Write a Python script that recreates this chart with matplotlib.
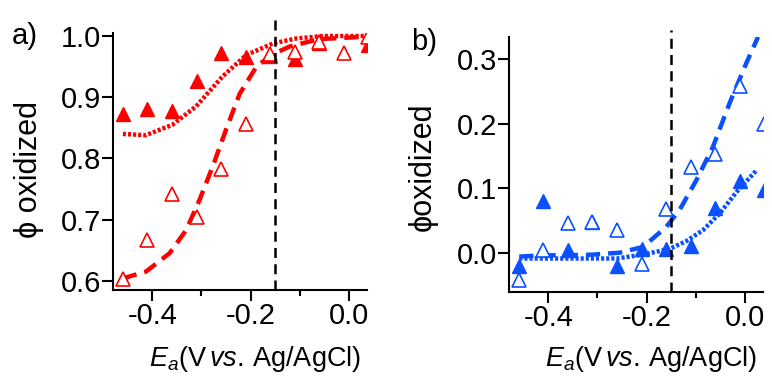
import numpy as np
import matplotlib
matplotlib.use("Agg")
import matplotlib.pyplot as plt
from matplotlib.ticker import MultipleLocator

plt.rcParams['font.family'] = ['Liberation Sans', 'DejaVu Sans']
plt.rcParams['mathtext.fontset'] = 'custom'
plt.rcParams['mathtext.rm'] = 'Liberation Sans'
plt.rcParams['mathtext.it'] = 'Liberation Sans:italic'
plt.rcParams['axes.unicode_minus'] = False

RED = '#ff0000'
BLUE = '#0a50ff'

# panel a (red)
a_x_fill = [-0.46, -0.41, -0.36, -0.31, -0.26, -0.21, -0.16, -0.11, -0.06, 0.04]
a_y_fill = [0.872, 0.881, 0.878, 0.927, 0.973, 0.965, 0.967, 0.962, 0.988, 0.985]
a_x_open = [-0.46, -0.41, -0.36, -0.31, -0.26, -0.21, -0.16, -0.11, -0.06, -0.01, 0.04]
a_y_open = [0.603, 0.666, 0.742, 0.705, 0.782, 0.856, 0.970, 0.974, 0.990, 0.973, 0.999]
a_fit_dot_x = [-0.46, -0.413, -0.359, -0.311, -0.257, -0.209, -0.154, -0.107, -0.053, 0.036]
a_fit_dot_y = [0.840, 0.838, 0.855, 0.885, 0.934, 0.969, 0.988, 0.996, 1.0, 1.0]
a_fit_dash_x = [-0.46, -0.413, -0.365, -0.331, -0.304, -0.277, -0.250, -0.222,
                -0.188, -0.158, -0.120, -0.06, 0.036]
a_fit_dash_y = [0.604, 0.615, 0.645, 0.683, 0.732, 0.787, 0.847, 0.906,
                0.950, 0.969, 0.983, 0.995, 0.999]

# panel b (blue)
b_x_fill = [-0.46, -0.41, -0.36, -0.31, -0.26, -0.21, -0.16, -0.11, -0.06, -0.01, 0.04]
b_y_fill = [-0.021, 0.080, 0.004, 0.048, -0.020, 0.006, 0.006, 0.010, 0.070, 0.112, 0.098]
b_x_open = [-0.46, -0.41, -0.36, -0.31, -0.26, -0.21, -0.16, -0.11, -0.06, -0.01, 0.04]
b_y_open = [-0.043, 0.004, 0.046, 0.047, 0.035, -0.017, 0.068, 0.133, 0.153, 0.259, 0.199]
b_fit_dash_x = [-0.459, -0.41, -0.36, -0.31, -0.255, -0.207, -0.16, -0.133,
                -0.099, -0.065, -0.031, 0.003, 0.027]
b_fit_dash_y = [-0.006, -0.004, -0.004, -0.003, 0.0, 0.009, 0.040, 0.066,
                0.112, 0.164, 0.232, 0.294, 0.335]
b_fit_dot_x = [-0.459, -0.36, -0.26, -0.201, -0.153, -0.119, -0.085, -0.051, -0.017, 0.024]
b_fit_dot_y = [-0.009, -0.009, -0.009, -0.002, 0.006, 0.018, 0.035, 0.061, 0.094, 0.128]

e_cut = -0.15

fig = plt.figure(figsize=(7.72, 3.78), dpi=100)
ax1 = fig.add_axes([0.1464, 0.2328, 0.329, 0.680])
ax2 = fig.add_axes([0.6593, 0.2275, 0.329, 0.675])


def style(ax, ylab, ylab_x, ylab_y, xlab_y):
    for s in ['top', 'right']:
        ax.spines[s].set_visible(False)
    for s in ['left', 'bottom']:
        ax.spines[s].set_linewidth(1.5)
    ax.tick_params(which='major', length=8, width=1.5, labelsize=21, pad=0.5)
    ax.tick_params(which='minor', length=4, width=1.5)
    ax.xaxis.set_minor_locator(MultipleLocator(0.1))
    ax.set_xlim(-0.48, 0.037)
    ax.set_xticks([-0.4, -0.2, 0.0])
    ax.set_xticklabels(['-0.4', '-0.2', '0.0'])
    ax.set_xlabel(r'$E_a$(V$\,$$vs.$$\,$Ag/AgCl)', fontsize=19.5)
    ax.xaxis.set_label_coords(0.56, xlab_y)
    ax.set_ylabel(ylab, fontsize=22)
    ax.yaxis.set_label_coords(ylab_x, ylab_y)


# panel a
ax1.plot(a_fit_dot_x, a_fit_dot_y, color=RED, lw=3.2, ls=(0, (0.7, 0.45)), zorder=2)
ax1.plot(a_fit_dash_x, a_fit_dash_y, color=RED, lw=3.2, ls=(0, (3.2, 1.8)), zorder=2)
ax1.plot(a_x_fill, a_y_fill, ls='none', marker='^', ms=10, color=RED, zorder=3)
ax1.plot(a_x_open, a_y_open, ls='none', marker='^', ms=10, mfc='white', mec=RED,
         mew=1.2, zorder=3)
ax1.set_ylim(0.585, 1.005)
ax1.set_yticks([0.6, 0.7, 0.8, 0.9, 1.0])
ax1.set_yticklabels(['0.6', '0.7', '0.8', '0.9', '1.0'])
ax1.plot([e_cut, e_cut], [0.585, 1.036], color='black', lw=1.8, ls=(0, (4, 2.5)),
         clip_on=False, zorder=4)
style(ax1, 'ϕ oxidized', -0.27, 0.47, -0.21)
fig.text(0.015, 0.905, 'a)', fontsize=21, va='center', ha='left')

# panel b
ax2.plot(b_fit_dash_x, b_fit_dash_y, color=BLUE, lw=3.2, ls=(0, (3.2, 1.8)), zorder=2)
ax2.plot(b_fit_dot_x, b_fit_dot_y, color=BLUE, lw=3.2, ls=(0, (0.7, 0.45)), zorder=2)
ax2.plot(b_x_fill, b_y_fill, ls='none', marker='^', ms=10, color=BLUE, zorder=3)
ax2.plot(b_x_open, b_y_open, ls='none', marker='^', ms=10, mfc='white', mec=BLUE,
         mew=1.2, zorder=3)
ax2.set_ylim(-0.061, 0.335)
ax2.set_yticks([0.0, 0.1, 0.2, 0.3])
ax2.set_yticklabels(['0.0', '0.1', '0.2', '0.3'])
ax2.plot([e_cut, e_cut], [-0.061, 0.346], color='black', lw=1.8, ls=(0, (4, 2.5)),
         clip_on=False, zorder=4)
style(ax2, 'ϕoxidized', -0.28, 0.49, -0.205)
fig.text(0.532, 0.89, 'b)', fontsize=21, va='center', ha='left')

fig.savefig('out.png', dpi=100)
